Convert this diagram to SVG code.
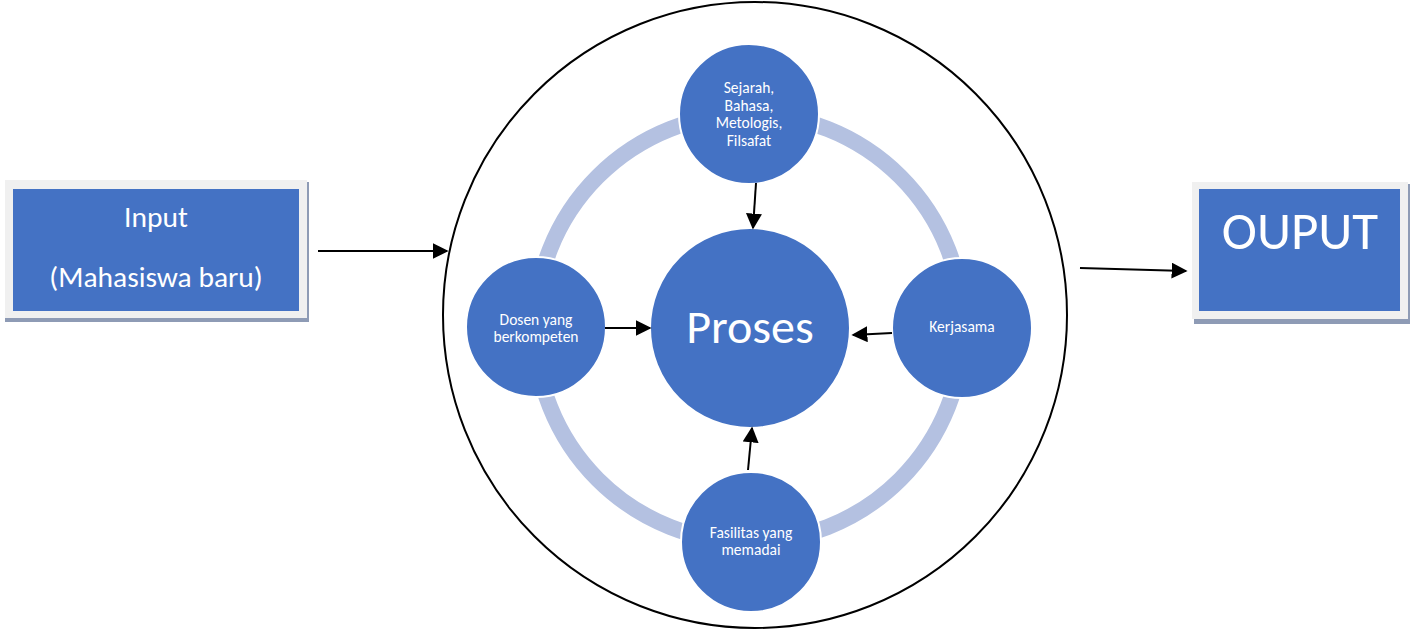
<svg xmlns="http://www.w3.org/2000/svg" width="1416" height="629" viewBox="0 0 1416 629">
<style>
.node{fill:#4472C4;stroke:#FFFFFF;stroke-width:2}
.t{fill:#FFFFFF;font-family:Carlito,"Open Sans","Liberation Sans",sans-serif;text-anchor:middle}
.s{font-size:15.5px}
.c{stroke:#000;stroke-width:2;fill:none}
</style>
<defs>
<marker id="ah2" viewBox="0 0 10 10" refX="9" refY="5" markerWidth="16" markerHeight="16" markerUnits="userSpaceOnUse" orient="auto"><path d="M0,0 L10,5 L0,10 z" fill="#000"/></marker>
</defs>
<g id="outer"><ellipse cx="755" cy="315" rx="312" ry="313" fill="none" stroke="#000" stroke-width="2"/></g>
<g id="ring"><circle cx="749" cy="328" r="214" fill="none" stroke="#B4C1E1" stroke-width="16"/></g>
<g id="input">
<rect x="5" y="182" width="304" height="140" fill="#8E9BB5"/>
<rect x="5" y="180" width="302" height="138" fill="#F0F0F0"/>
<rect x="13" y="189" width="286" height="122" fill="#4472C4"/>
<text class="t" x="156" y="227" font-size="29.5">Input</text>
<text class="t" x="156" y="287" font-size="29.5">(Mahasiswa baru)</text>
</g>
<g id="output">
<rect x="1194" y="184" width="216" height="140" fill="#8E9BB5"/>
<rect x="1192" y="182" width="216" height="137" fill="#F0F0F0"/>
<rect x="1199" y="189" width="201" height="122" fill="#4472C4"/>
<text class="t" x="1300" y="249" font-size="53">OUPUT</text>
</g>
<g id="top"><circle class="node" cx="749" cy="114" r="70"/>
<text class="t s" x="749" y="93">Sejarah,</text>
<text class="t s" x="749" y="111">Bahasa,</text>
<text class="t s" x="749" y="128">Metologis,</text>
<text class="t s" x="749" y="146">Filsafat</text></g>
<g id="left"><circle class="node" cx="536" cy="327" r="70"/>
<text class="t s" x="536" y="325">Dosen yang</text>
<text class="t s" x="536" y="342">berkompeten</text></g>
<g id="right"><circle class="node" cx="962" cy="328" r="70"/>
<text class="t s" x="962" y="332">Kerjasama</text></g>
<g id="bottom"><circle class="node" cx="751" cy="542" r="70"/>
<text class="t s" x="751" y="538">Fasilitas yang</text>
<text class="t s" x="751" y="555">memadai</text></g>
<g id="center"><circle class="node" cx="750" cy="328" r="100"/>
<text class="t" x="750" y="343" font-size="48">Proses</text></g>
<g id="connectors">
<path class="c" d="M318,251 L447,251" marker-end="url(#ah2)"/>
<path class="c" d="M1080,268 L1186,271" marker-end="url(#ah2)"/>
<path class="c" d="M756,183 L753,228" marker-end="url(#ah2)"/>
<path class="c" d="M605,328 L650,328" marker-end="url(#ah2)"/>
<path class="c" d="M892,333 L853,335" marker-end="url(#ah2)"/>
<path class="c" d="M748,470 L752,428" marker-end="url(#ah2)"/>
</g>
</svg>
